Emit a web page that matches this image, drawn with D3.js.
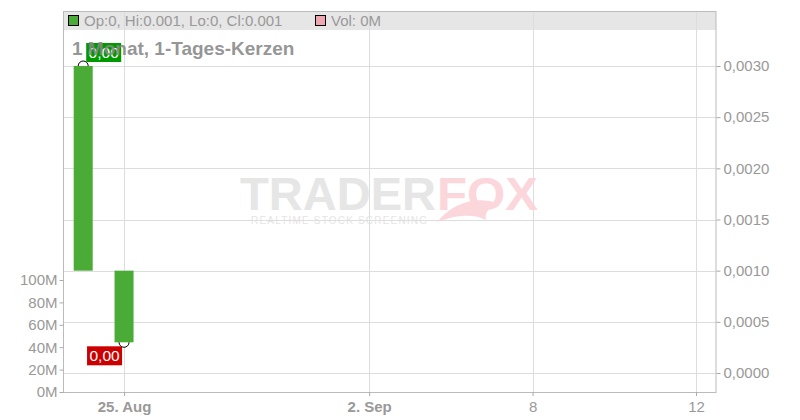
<!DOCTYPE html>
<html>
<head>
<meta charset="utf-8">
<script src="https://cdn.jsdelivr.net/npm/d3@7"></script>
<style>
  body { margin: 0; background: #fff; }
  text { font-family: "Liberation Sans", Arial, sans-serif; }
</style>
</head>
<body>
<svg id="chart"></svg>
<script>
// Trading days shown on the x axis (weekends skipped)
const tradingDays = ["2025-08-22", "2025-08-25", "2025-08-26", "2025-08-27", "2025-08-28",
    "2025-08-29", "2025-09-01", "2025-09-02", "2025-09-03", "2025-09-04", "2025-09-05",
    "2025-09-08", "2025-09-09", "2025-09-10", "2025-09-11", "2025-09-12"];
const xTickDays = ["2025-08-25", "2025-09-02", "2025-09-08", "2025-09-12"];
const xTickLabels = ["25. Aug", "2. Sep", "8", "12"];
const xTickBold = [true, true, false, false];

// Candles
const candleDays = ["2025-08-22", "2025-08-25"];
const opens = [0.0010, 0.0003];
const highs = [0.0030, 0.0010];
const lows = [0.0010, 0.0003];
const closes = [0.0030, 0.0010];
const volumes = [0, 0];

const priceTicks = [0, 0.0005, 0.0010, 0.0015, 0.0020, 0.0025, 0.0030];
const volumeTicks = [0, 20e6, 40e6, 60e6, 80e6, 100e6];

const width = 800;
const height = 420;
const plot = {left: 64, right: 716, top: 11, bottom: 392};

const svg = d3.select("#chart")
    .attr("width", width)
    .attr("height", height);

const de = d3.formatLocale({decimal: ",", thousands: ".", grouping: [3], currency: ["", "€"]});

// Scales
const x = d3.scaleLinear()
    .domain([-0.47, tradingDays.length - 0.51])
    .range([plot.left, plot.right]);
const xi = d => tradingDays.indexOf(d);

const y = d3.scaleLinear()
    .domain([0, 0.003])
    .range([373, 66]);

const yVol = d3.scaleLinear()
    .domain([0, 100e6])
    .range([plot.bottom, 280]);

// Header strip
svg.append("rect")
    .attr("x", plot.left).attr("y", plot.top)
    .attr("width", plot.right - plot.left).attr("height", 19)
    .attr("fill", "#e6e6e6");

// Grid lines
svg.append("g")
    .selectAll("line")
    .data(priceTicks)
    .enter().append("line")
    .attr("x1", plot.left).attr("x2", plot.right)
    .attr("y1", d => Math.round(y(d)) + 0.5).attr("y2", d => Math.round(y(d)) + 0.5)
    .attr("stroke", "#dddddd");

svg.append("g")
    .selectAll("line")
    .data(xTickDays)
    .enter().append("line")
    .attr("x1", d => Math.round(x(xi(d))) + 0.5).attr("x2", d => Math.round(x(xi(d))) + 0.5)
    .attr("y1", plot.top).attr("y2", plot.bottom)
    .attr("stroke", "#dddddd");

// Watermark
const wm = svg.append("g").attr("opacity", 0.9);
wm.append("text")
    .attr("x", 240).attr("y", 210)
    .attr("font-size", 46).attr("font-weight", "bold")
    .attr("textLength", 196).attr("lengthAdjust", "spacingAndGlyphs")
    .attr("fill", "#e4e4e4")
    .text("TRADER");
wm.append("text")
    .attr("x", 437).attr("y", 210)
    .attr("font-size", 46).attr("font-weight", "bold")
    .attr("textLength", 101).attr("lengthAdjust", "spacingAndGlyphs")
    .attr("fill", "#fbd3d8")
    .text("FOX");
wm.append("path")
    .attr("d", "M437,222 C455,200 480,196 500,204 C490,206 484,212 486,220 C475,214 458,214 437,222 Z")
    .attr("fill", "#fbd3d8");
wm.append("text")
    .attr("x", 251).attr("y", 224)
    .attr("font-size", 10)
    .attr("textLength", 176).attr("lengthAdjust", "spacing")
    .attr("fill", "#e2e2e2")
    .text("REALTIME STOCK SCREENING");

// Plot border
svg.append("rect")
    .attr("x", plot.left - 0.5).attr("y", plot.top + 0.5)
    .attr("width", plot.right - plot.left + 0.5).attr("height", plot.bottom - plot.top)
    .attr("fill", "none")
    .attr("stroke", "#bbbbbb");

// Right price axis
const yAxis = svg.append("g")
    .attr("transform", `translate(${plot.right + 0.5},0)`)
    .call(d3.axisRight(y).tickValues(priceTicks).tickSize(4).tickPadding(3)
        .tickFormat(de.format(".4f")));
yAxis.select(".domain").remove();
yAxis.selectAll("line").attr("stroke", "#aaaaaa");
yAxis.selectAll("text").attr("fill", "#999999").attr("font-size", 15)
    .attr("font-family", "Liberation Sans, Arial, sans-serif");

// Left volume axis
const volAxis = svg.append("g")
    .attr("transform", `translate(${plot.left - 0.5},0)`)
    .call(d3.axisLeft(yVol).tickValues(volumeTicks).tickSize(4).tickPadding(2)
        .tickFormat(d => (d / 1e6) + "M"));
volAxis.select(".domain").remove();
volAxis.selectAll("line").attr("stroke", "#aaaaaa");
volAxis.selectAll("text").attr("fill", "#999999").attr("font-size", 15)
    .attr("font-family", "Liberation Sans, Arial, sans-serif");

// Bottom axis
const xAxis = svg.append("g")
    .attr("transform", `translate(0,${plot.bottom})`)
    .call(d3.axisBottom(x).tickValues(xTickDays.map(xi)).tickSize(4).tickPadding(5)
        .tickFormat((d, i) => xTickLabels[i]));
xAxis.select(".domain").remove();
xAxis.selectAll("line").attr("stroke", "#aaaaaa");
xAxis.selectAll("text")
    .attr("fill", "#999999").attr("font-size", 15)
    .attr("font-family", "Liberation Sans, Arial, sans-serif")
    .attr("font-weight", (d, i) => xTickBold[i] ? "bold" : "normal");

// Volume bars (all zero here)
svg.append("g")
    .selectAll("rect")
    .data(candleDays)
    .enter().append("rect")
    .attr("x", (d, i) => x(xi(d)) - 9.5)
    .attr("y", (d, i) => yVol(volumes[i]))
    .attr("width", 19)
    .attr("height", (d, i) => yVol(0) - yVol(volumes[i]))
    .attr("fill", "#f0a8b0");

// High / low markers
const hiIdx = d3.maxIndex(highs);
const loIdx = d3.minIndex(lows);
svg.append("circle")
    .attr("cx", x(xi(candleDays[hiIdx]))).attr("cy", y(highs[hiIdx])).attr("r", 5)
    .attr("fill", "#fff").attr("stroke", "#000");
svg.append("circle")
    .attr("cx", x(xi(candleDays[loIdx]))).attr("cy", y(lows[loIdx])).attr("r", 5)
    .attr("fill", "#fff").attr("stroke", "#000");

// Candles
svg.append("g")
    .selectAll("rect")
    .data(candleDays)
    .enter().append("rect")
    .attr("x", d => x(xi(d)) - 9.5)
    .attr("y", (d, i) => y(Math.max(opens[i], closes[i])))
    .attr("width", 19)
    .attr("height", (d, i) => Math.abs(y(opens[i]) - y(closes[i])))
    .attr("fill", (d, i) => closes[i] >= opens[i] ? "#4aac36" : "#d62020");

// Marker labels
const hx = x(xi(candleDays[hiIdx])), hy = y(highs[hiIdx]);
svg.append("rect")
    .attr("x", hx + 3).attr("y", hy - 23).attr("width", 35).attr("height", 19)
    .attr("fill", "#009900");
svg.append("text")
    .attr("x", hx + 20.5).attr("y", hy - 8)
    .attr("text-anchor", "middle").attr("font-size", 15.5).attr("fill", "#fff")
    .text(de.format(".2f")(highs[hiIdx]));

const lx = x(xi(candleDays[loIdx])), ly = y(lows[loIdx]);
svg.append("rect")
    .attr("x", lx - 37).attr("y", ly + 4).attr("width", 35).attr("height", 19)
    .attr("fill", "#cc0000");
svg.append("text")
    .attr("x", lx - 19.5).attr("y", ly + 19)
    .attr("text-anchor", "middle").attr("font-size", 15.5).attr("fill", "#fff")
    .text(de.format(".2f")(lows[loIdx]));

// Title
svg.append("text")
    .attr("x", 72).attr("y", 55)
    .attr("font-size", 19).attr("font-weight", "bold")
    .attr("fill", "#888888").attr("fill-opacity", 0.9)
    .text("1 Monat, 1-Tages-Kerzen");

// Legend in header
const last = candleDays.length - 1;
const fmt = d3.format("~g");
svg.append("rect")
    .attr("x", 68.5).attr("y", 15.5).attr("width", 10).attr("height", 10)
    .attr("fill", "#4aac36").attr("stroke", "#000");
svg.append("text")
    .attr("x", 84).attr("y", 26)
    .attr("font-size", 15).attr("fill", "#999999")
    .text(`Op:${fmt(+opens[last].toFixed(3))}, Hi:${fmt(+highs[last].toFixed(3))}, Lo:${fmt(+lows[last].toFixed(3))}, Cl:${fmt(+closes[last].toFixed(3))}`);
svg.append("rect")
    .attr("x", 315.5).attr("y", 15.5).attr("width", 10).attr("height", 10)
    .attr("fill", "#f0a8b0").attr("stroke", "#000");
svg.append("text")
    .attr("x", 331).attr("y", 26)
    .attr("font-size", 15).attr("fill", "#999999")
    .text(`Vol: ${volumes[last] / 1e6}M`);
</script>
</body>
</html>
